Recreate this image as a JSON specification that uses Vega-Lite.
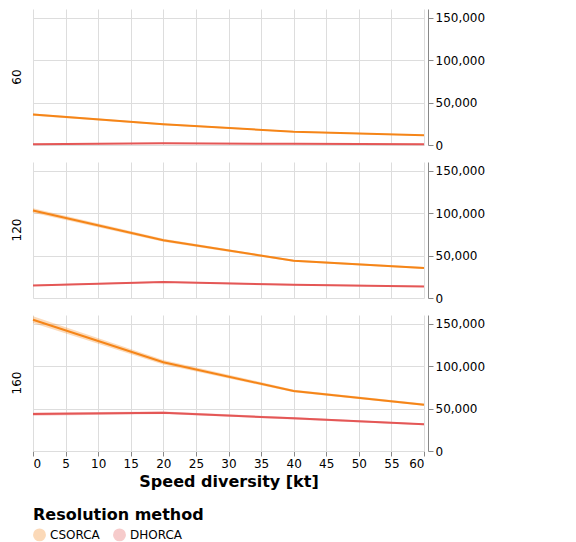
{
  "$schema": "https://vega.github.io/schema/vega-lite/v6.json",
  "padding": {"top": 9, "left": 10, "right": 5, "bottom": 5},
  "data": {
    "values": [
      {"traffic": 60, "speed": 0, "method": "CSORCA", "mean": 35800, "lo": 34400, "hi": 37200},
      {"traffic": 60, "speed": 20, "method": "CSORCA", "mean": 24300, "lo": 23200, "hi": 25400},
      {"traffic": 60, "speed": 40, "method": "CSORCA", "mean": 15700, "lo": 14900, "hi": 16500},
      {"traffic": 60, "speed": 60, "method": "CSORCA", "mean": 11400, "lo": 10700, "hi": 12100},
      {"traffic": 60, "speed": 0, "method": "DHORCA", "mean": 900, "lo": 400, "hi": 1400},
      {"traffic": 60, "speed": 20, "method": "DHORCA", "mean": 2000, "lo": 1400, "hi": 2600},
      {"traffic": 60, "speed": 40, "method": "DHORCA", "mean": 1400, "lo": 900, "hi": 1900},
      {"traffic": 60, "speed": 60, "method": "DHORCA", "mean": 1000, "lo": 500, "hi": 1500},
      {"traffic": 120, "speed": 0, "method": "CSORCA", "mean": 103000, "lo": 100400, "hi": 105600},
      {"traffic": 120, "speed": 20, "method": "CSORCA", "mean": 68000, "lo": 66200, "hi": 69800},
      {"traffic": 120, "speed": 40, "method": "CSORCA", "mean": 43800, "lo": 42600, "hi": 45000},
      {"traffic": 120, "speed": 60, "method": "CSORCA", "mean": 35300, "lo": 34200, "hi": 36400},
      {"traffic": 120, "speed": 0, "method": "DHORCA", "mean": 14800, "lo": 14000, "hi": 15600},
      {"traffic": 120, "speed": 20, "method": "DHORCA", "mean": 18800, "lo": 17900, "hi": 19700},
      {"traffic": 120, "speed": 40, "method": "DHORCA", "mean": 15600, "lo": 14800, "hi": 16400},
      {"traffic": 120, "speed": 60, "method": "DHORCA", "mean": 13600, "lo": 12900, "hi": 14300},
      {"traffic": 160, "speed": 0, "method": "CSORCA", "mean": 154500, "lo": 150500, "hi": 158500},
      {"traffic": 160, "speed": 20, "method": "CSORCA", "mean": 104500, "lo": 101800, "hi": 107200},
      {"traffic": 160, "speed": 40, "method": "CSORCA", "mean": 70600, "lo": 69000, "hi": 72200},
      {"traffic": 160, "speed": 60, "method": "CSORCA", "mean": 54500, "lo": 53200, "hi": 55800},
      {"traffic": 160, "speed": 0, "method": "DHORCA", "mean": 43500, "lo": 41600, "hi": 45400},
      {"traffic": 160, "speed": 20, "method": "DHORCA", "mean": 45000, "lo": 43400, "hi": 46600},
      {"traffic": 160, "speed": 40, "method": "DHORCA", "mean": 38400, "lo": 37200, "hi": 39600},
      {"traffic": 160, "speed": 60, "method": "DHORCA", "mean": 31400, "lo": 30400, "hi": 32400}
    ]
  },
  "facet": {
    "row": {
      "field": "traffic",
      "type": "ordinal",
      "sort": [60, 120, 160],
      "title": null,
      "header": {"labelFontSize": 12, "labelAngle": -90, "labelOrient": "left", "labelPadding": 0}
    }
  },
  "spacing": 13,
  "spec": {
    "width": 391,
    "height": 136,
    "layer": [
      {
        "mark": {"type": "errorband", "opacity": 0.3},
        "encoding": {
          "x": {
            "field": "speed",
            "type": "quantitative",
            "title": "Speed diversity [kt]",
            "scale": {"domain": [0, 60], "nice": false},
            "axis": {"values": [0, 5, 10, 15, 20, 25, 30, 35, 40, 45, 50, 55, 60]}
          },
          "y": {"field": "lo", "type": "quantitative"},
          "y2": {"field": "hi"},
          "color": {"field": "method", "type": "nominal"}
        }
      },
      {
        "mark": {"type": "line", "strokeWidth": 2},
        "encoding": {
          "x": {
            "field": "speed",
            "type": "quantitative",
            "title": "Speed diversity [kt]",
            "scale": {"domain": [0, 60], "nice": false},
            "axis": {"values": [0, 5, 10, 15, 20, 25, 30, 35, 40, 45, 50, 55, 60]}
          },
          "y": {
            "field": "mean",
            "type": "quantitative",
            "title": null,
            "scale": {"domain": [0, 160000], "nice": false},
            "axis": {"orient": "right", "values": [0, 50000, 100000, 150000], "format": ",d"}
          },
          "color": {
            "field": "method",
            "type": "nominal",
            "title": "Resolution method",
            "scale": {"domain": ["CSORCA", "DHORCA"], "range": ["#f58518", "#e45756"]},
            "legend": {
              "orient": "bottom",
              "direction": "horizontal",
              "symbolType": "circle",
              "symbolOpacity": 0.3,
              "symbolSize": 130,
              "titleFontSize": 16,
              "labelFontSize": 12
            }
          }
        }
      }
    ]
  },
  "config": {
    "axis": {"labelFontSize": 12, "titleFontSize": 16, "labelFont": "DejaVu Sans", "titleFont": "DejaVu Sans"},
    "legend": {"labelFont": "DejaVu Sans", "titleFont": "DejaVu Sans"},
    "header": {"labelFont": "DejaVu Sans"},
    "view": {"stroke": null}
  }
}
